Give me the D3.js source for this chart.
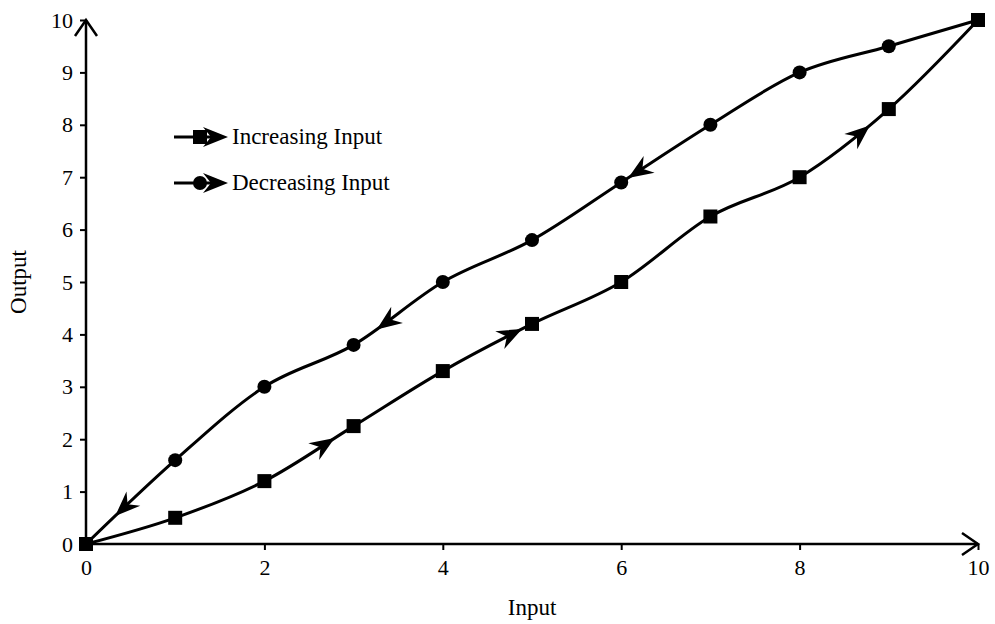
<!DOCTYPE html>
<html><head><meta charset="utf-8">
<script src="https://cdn.jsdelivr.net/npm/d3@7"></script>
<style>body{margin:0;background:#fff}text{font-family:"Liberation Serif","Times New Roman",serif;fill:#000}</style>
</head><body><svg id="c" width="995" height="624"></svg>
<script>
const incX = [0,1,2,3,4,5,6,7,8,9,10];
const incY = [0,0.5,1.2,2.25,3.3,4.2,5,6.25,7,8.3,10];
const decX = [10,9,8,7,6,5,4,3,2,1,0];
const decY = [10,9.5,9,8,6.9,5.8,5,3.8,3,1.6,0];
const incArrowX = [2.79,4.89,8.79];
const decArrowX = [6.08,3.26,0.33];
const xTicks = [0,2,4,6,8,10];
const yTicks = [0,1,2,3,4,5,6,7,8,9,10];
const seriesNames = ["Increasing Input","Decreasing Input"];

const svg = d3.select("#c");
const x = d3.scaleLinear().domain([0,10]).range([86,978]);
const y = d3.scaleLinear().domain([0,10]).range([544,20]);

const xa = svg.append("g").attr("transform","translate(0,544)")
  .call(d3.axisBottom(x).tickValues(xTicks).tickSize(6).tickPadding(9).tickFormat(d3.format("d")));
const ya = svg.append("g").attr("transform","translate(86,0)")
  .call(d3.axisLeft(y).tickValues(yTicks).tickSize(6).tickPadding(7).tickFormat(d3.format("d")));
[xa,ya].forEach(g=>{
  g.attr("font-family",null).attr("font-size",null);
  g.select(".domain").attr("stroke","#000").attr("stroke-width",2.5);
  g.selectAll(".tick line").attr("stroke","#000").attr("stroke-width",2);
  g.selectAll(".tick text").style("font-size","22px").style("font-family","Liberation Serif");
});
xa.select(".domain").attr("d",`M${x(0)},0H${x(10)}`);
ya.select(".domain").attr("d",`M0,${y(0)}V${y(10)}`);
svg.append("path").attr("d",`M${x(10)-16},${y(0)-11}L${x(10)},${y(0)}L${x(10)-16},${y(0)+11}`)
  .attr("fill","none").attr("stroke","#000").attr("stroke-width",2.5);
svg.append("path").attr("d",`M${x(0)-11},${y(10)+16}L${x(0)},${y(10)}L${x(0)+11},${y(10)+16}`)
  .attr("fill","none").attr("stroke","#000").attr("stroke-width",2.5);

svg.append("text").attr("x",x(5)).attr("y",615).attr("text-anchor","middle").style("font-size","23px").text("Input");
svg.append("text").attr("transform",`translate(26,${y(5)}) rotate(-90)`).attr("text-anchor","middle").style("font-size","23px").text("Output");

const line = d3.line().x(d=>x(d[0])).y(d=>y(d[1])).curve(d3.curveCardinal.tension(0));

function arrowHead(g, px, py, ang){
  g.append("path").attr("d","M0,0L-25,-10L-17,0L-25,10Z")
   .attr("transform",`translate(${px},${py}) rotate(${ang*180/Math.PI})`).attr("fill","#000");
}

function drawSeries(xs, ys, arrowsX, marker){
  const data = xs.map((v,i)=>[v,ys[i]]);
  const p = svg.append("path").attr("d",line(data)).attr("fill","none").attr("stroke","#000").attr("stroke-width",3);
  const node = p.node(), L = node.getTotalLength();
  arrowsX.forEach(ax=>{
    const tx = x(ax);
    let best=0, bd=1e9;
    for(let s=0;s<=L;s+=0.5){const pt=node.getPointAtLength(s);const d=Math.abs(pt.x-tx);if(d<bd){bd=d;best=s;}}
    const a=node.getPointAtLength(Math.max(0,best-2)), b=node.getPointAtLength(Math.min(L,best+2));
    const pt=node.getPointAtLength(best);
    arrowHead(svg, pt.x, pt.y, Math.atan2(b.y-a.y,b.x-a.x));
  });
  const g = svg.append("g");
  data.forEach(d=>{
    if(marker==="square") g.append("rect").attr("x",x(d[0])-7).attr("y",y(d[1])-7).attr("width",14).attr("height",14).attr("fill","#000");
    else g.append("circle").attr("cx",x(d[0])).attr("cy",y(d[1])).attr("r",7).attr("fill","#000");
  });
}
drawSeries(decX, decY, decArrowX, "circle");
drawSeries(incX, incY, incArrowX, "square");

[["square",137],["circle",183]].forEach((m,i)=>{
  const yy=m[1];
  svg.append("line").attr("x1",174).attr("x2",222).attr("y1",yy).attr("y2",yy).attr("stroke","#000").attr("stroke-width",3);
  if(m[0]==="square") svg.append("rect").attr("x",193).attr("y",yy-7).attr("width",14).attr("height",14);
  else svg.append("circle").attr("cx",200).attr("cy",yy).attr("r",7);
  arrowHead(svg,228,yy,0);
  svg.append("text").attr("x",232).attr("y",yy+7).style("font-size","23px").text(seriesNames[i]);
});
</script></body></html>
